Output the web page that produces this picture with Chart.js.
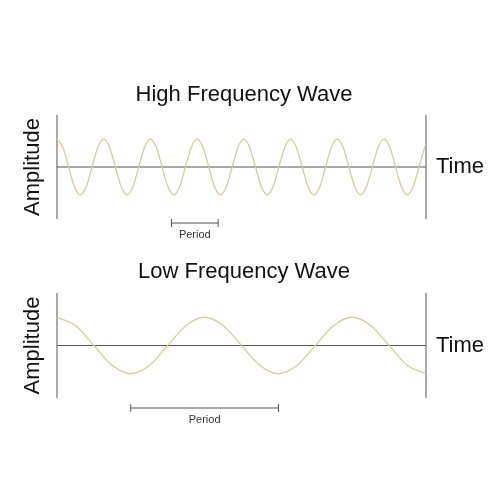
<!DOCTYPE html>
<html>
<head>
<script src="https://cdn.jsdelivr.net/npm/chart.js@4"></script>
<style>
  body { margin: 0; background: #fff; }
  canvas { display: block; }
</style>
</head>
<body>
<canvas id="high" width="500" height="250"></canvas>
<canvas id="low" width="500" height="250"></canvas>
<script>
// time in eighths of a period, amplitude in units of peak height
const highTimes = [0, 1, 2, 3, 4, 5, 6, 7, 8, 9, 10, 11, 12, 13, 14, 15, 16, 17, 18, 19, 20, 21, 22, 23, 24, 25, 26, 27, 28, 29, 30, 31,
    32, 33, 34, 35, 36, 37, 38, 39, 40, 41, 42, 43, 44, 45, 46, 47, 48, 49, 50, 51, 52, 53, 54, 55, 56, 57, 58, 59, 60, 61, 62, 63, 63.2];
const highValues = [1, 0.71, 0, -0.71, -1, -0.71, 0, 0.71, 1, 0.71, 0, -0.71, -1, -0.71, 0, 0.71,
    1, 0.71, 0, -0.71, -1, -0.71, 0, 0.71, 1, 0.71, 0, -0.71, -1, -0.71, 0, 0.71,
    1, 0.71, 0, -0.71, -1, -0.71, 0, 0.71, 1, 0.71, 0, -0.71, -1, -0.71, 0, 0.71,
    1, 0.71, 0, -0.71, -1, -0.71, 0, 0.71, 1, 0.71, 0, -0.71, -1, -0.71, 0, 0.71, 0.82];
const lowTimes = [0, 1, 2, 3, 4, 5, 6, 7, 8, 9, 10, 11, 12, 13, 14, 15, 16, 17, 18, 19, 20];
const lowValues = [1, 0.71, 0, -0.71, -1, -0.71, 0, 0.71, 1, 0.71, 0, -0.71, -1, -0.71, 0, 0.71, 1, 0.71, 0, -0.71, -1];
const highPeriod = [19.6, 27.6];
const lowPeriod = [4, 12];

const waveColor = '#d9cb98';
const axisColor = '#555';

const frame = {
    id: 'frame',
    beforeDatasetsDraw(chart, args, opts) {
        const { ctx, chartArea: a, scales: { y } } = chart;
        ctx.save();
        ctx.strokeStyle = axisColor;
        ctx.lineWidth = 1;
        ctx.beginPath();
        ctx.moveTo(a.left, a.top); ctx.lineTo(a.left, a.bottom);
        ctx.moveTo(a.right, a.top); ctx.lineTo(a.right, a.bottom);
        ctx.moveTo(a.left, y.getPixelForValue(0)); ctx.lineTo(a.right, y.getPixelForValue(0));
        ctx.stroke();
        ctx.restore();
    },
    afterDraw(chart, args, opts) {
        const { ctx, scales: { x, y } } = chart;
        const mid = y.getPixelForValue(0);
        ctx.save();
        ctx.fillStyle = '#111';
        ctx.font = '22px "Liberation Sans", Arial, sans-serif';
        ctx.textAlign = 'center';
        ctx.textBaseline = 'middle';
        ctx.fillText(opts.title, 244, opts.titleY);
        ctx.textAlign = 'left';
        ctx.fillText('Time', 436, mid);
        ctx.translate(33, mid);
        ctx.rotate(-Math.PI / 2);
        ctx.textAlign = 'center';
        ctx.fillText('Amplitude', 0, 0);
        ctx.restore();

        const x0 = x.getPixelForValue(opts.period[0]);
        const x1 = x.getPixelForValue(opts.period[1]);
        const by = opts.bracketY;
        ctx.save();
        ctx.strokeStyle = axisColor;
        ctx.lineWidth = 1;
        ctx.beginPath();
        ctx.moveTo(x0, by); ctx.lineTo(x1, by);
        ctx.moveTo(x0, by - 4); ctx.lineTo(x0, by + 4);
        ctx.moveTo(x1, by - 4); ctx.lineTo(x1, by + 4);
        ctx.stroke();
        ctx.fillStyle = '#333';
        ctx.font = '11px "Liberation Sans", Arial, sans-serif';
        ctx.textAlign = 'center';
        ctx.textBaseline = 'middle';
        ctx.fillText('Period', (x0 + x1) / 2, by + 12);
        ctx.restore();
    }
};

function makeWave(id, times, values, maxT, padding, frameOpts) {
    new Chart(document.getElementById(id), {
        type: 'line',
        data: {
            datasets: [{
                data: times.map((t, i) => ({ x: t, y: values[i] })),
                borderColor: waveColor,
                borderWidth: 1.3,
                pointRadius: 0,
                cubicInterpolationMode: 'monotone'
            }]
        },
        options: {
            responsive: false,
            animation: false,
            layout: { padding: padding },
            scales: {
                x: { type: 'linear', min: 0, max: maxT, display: false },
                y: { min: -1.86, max: 1.86, display: false }
            },
            plugins: {
                legend: { display: false },
                tooltip: { enabled: false },
                frame: frameOpts
            }
        },
        plugins: [frame]
    });
}

makeWave('high', highTimes, highValues, 63.2,
    { left: 57, right: 74, top: 115, bottom: 31 },
    { title: 'High Frequency Wave', titleY: 95, period: highPeriod, bracketY: 223 });
makeWave('low', lowTimes, lowValues, 20,
    { left: 57, right: 74, top: 43, bottom: 102 },
    { title: 'Low Frequency Wave', titleY: 22, period: lowPeriod, bracketY: 158 });
</script>
</body>
</html>
